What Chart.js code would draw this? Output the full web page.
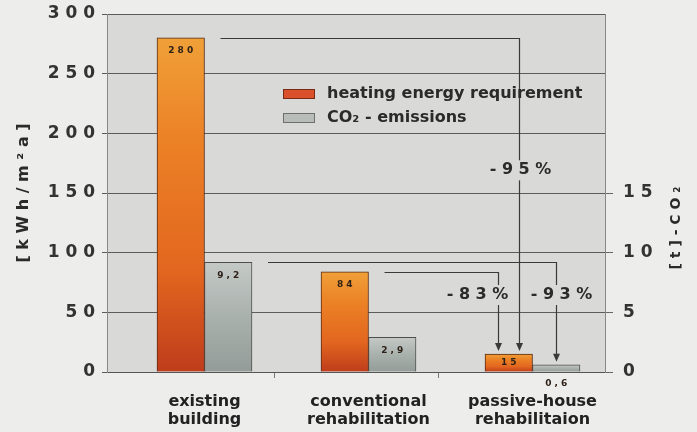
<!DOCTYPE html>
<html>
<head>
<meta charset="utf-8">
<script src="https://cdn.jsdelivr.net/npm/chart.js@4.4.1/dist/chart.umd.min.js"></script>
<style>
  html, body { margin: 0; padding: 0; background: #ededeb; }
  canvas { display: block; }
</style>
</head>
<body>
<canvas id="energyChart" width="697" height="432"></canvas>
<script>
// values
const categories = [["existing", "building"], ["conventional", "rehabilitation"], ["passive-house", "rehabilitaion"]];
const heatingEnergy = [280, 84, 15];      // kWh/m²a, left axis
const co2Emissions = [9.2, 2.9, 0.6];     // t CO2, right axis
const rightTicks = [0, 5, 10, 15];
const reductionTexts = ["- 9 5 %", "- 8 3 %", "- 9 3 %"];

const FONT = "DejaVu Sans";
const PLOT_BG = "#d9d9d7";

// which bar each reduction arrow runs from / to, and where its label sits
const reductionArrows = [
    { from: [0, 0], to: [0, 2], dx: 10, tx: 1, at: 169 },
    { from: [0, 1], to: [0, 2], dx: -11, tx: -21, at: 64.5 },
    { from: [1, 0], to: [1, 2], dx: 0, tx: 5, at: 64.5 }
];

function spaced(v) {
    return String(v).replace(".", ",").split("").join(" ");
}

function barFill(stops) {
    return function (c) {
        const chart = c.chart;
        if (!chart.chartArea || c.type !== "data") return stops[1][1];
        const axis = c.datasetIndex === 0 ? "y" : "y1";
        const top = chart.scales[axis].getPixelForValue(c.raw.y);
        const base = chart.chartArea.bottom;
        const g = chart.ctx.createLinearGradient(0, top, 0, base);
        stops.forEach(s => g.addColorStop(s[0], s[1]));
        return g;
    };
}

function noVerticalPadding(s) {
    s.paddingTop = 0;
    s.paddingBottom = 0;
}

const backgroundPlugin = {
    id: "plotBackground",
    beforeDraw(chart) {
        const { ctx, chartArea: a } = chart;
        ctx.save();
        ctx.fillStyle = "#ededeb";
        ctx.fillRect(0, 0, chart.width, chart.height);
        ctx.fillStyle = PLOT_BG;
        ctx.fillRect(a.left, a.top, a.right - a.left, a.bottom - a.top);
        ctx.restore();
    }
};

const arrowPlugin = {
    id: "reductionArrows",
    afterDatasetsDraw(chart) {
        const ctx = chart.ctx;
        ctx.save();
        reductionArrows.forEach((a, k) => {
            const src = chart.getDatasetMeta(a.from[0]).data[a.from[1]];
            const dst = chart.getDatasetMeta(a.to[0]).data[a.to[1]];
            const x0 = src.x + src.width / 2 + 16;
            const y0 = Math.round(src.y) + 0.5;
            const x1 = Math.round(dst.x + a.dx) + 0.5;
            const tip = dst.y - 3;
            ctx.strokeStyle = "#3a3a3a";
            ctx.fillStyle = "#3a3a3a";
            ctx.lineWidth = 1.2;
            ctx.beginPath();
            ctx.moveTo(x0, y0);
            ctx.lineTo(x1, y0);
            ctx.lineTo(x1, tip - 6);
            ctx.stroke();
            ctx.beginPath();
            ctx.moveTo(x1 - 3.5, tip - 8);
            ctx.lineTo(x1 + 3.5, tip - 8);
            ctx.lineTo(x1, tip);
            ctx.closePath();
            ctx.fill();

            const ty = chart.scales.y.getPixelForValue(a.at);
            const tx = x1 + a.tx;
            ctx.font = "bold 16px " + FONT;
            const w = ctx.measureText(reductionTexts[k]).width;
            ctx.fillStyle = PLOT_BG;
            ctx.fillRect(tx - w / 2 - 3, ty - 10, w + 6, 20);
            ctx.fillStyle = "#2b2b2b";
            ctx.textAlign = "center";
            ctx.textBaseline = "middle";
            ctx.fillText(reductionTexts[k], tx, ty);
        });
        ctx.restore();
    }
};

const valueLabelPlugin = {
    id: "valueLabels",
    afterDatasetsDraw(chart) {
        const ctx = chart.ctx;
        ctx.save();
        ctx.font = "bold 9px " + FONT;
        ctx.textAlign = "center";
        ctx.textBaseline = "middle";
        ctx.fillStyle = "#2e2218";
        chart.data.datasets.forEach((ds, d) => {
            chart.getDatasetMeta(d).data.forEach((bar, i) => {
                const h = bar.base - bar.y;
                const y = h > 16 ? bar.y + Math.min(13, h / 2) : bar.base + 12;
                ctx.fillText(spaced(ds.data[i].y), bar.x, y);
            });
        });
        ctx.restore();
    }
};

const legendPlugin = {
    id: "insideLegend",
    afterDraw(chart) {
        const ctx = chart.ctx;
        ctx.save();
        const rows = [
            { text: chart.data.datasets[0].label, fill: "#d9502a", line: "#7a2a18", y: 94 },
            { text: chart.data.datasets[1].label, fill: "#b9bdba", line: "#6e6e6e", y: 118 }
        ];
        rows.forEach(r => {
            ctx.fillStyle = r.fill;
            ctx.fillRect(283, r.y - 5, 32, 10);
            ctx.strokeStyle = r.line;
            ctx.lineWidth = 1;
            ctx.strokeRect(283.5, r.y - 4.5, 31, 9);
            ctx.fillStyle = "#2a2a2a";
            ctx.font = "bold 16px " + FONT;
            ctx.textAlign = "left";
            ctx.textBaseline = "middle";
            ctx.fillText(r.text, 327, r.y);
        });

        // right axis title, reading bottom to top
        ctx.translate(676, 228);
        ctx.rotate(-Math.PI / 2);
        ctx.font = "bold 14px " + FONT;
        ctx.textAlign = "center";
        ctx.textBaseline = "middle";
        ctx.fillText("[ t ] - C O ₂", 0, 0);
        ctx.restore();
    }
};

new Chart(document.getElementById("energyChart"), {
    type: "bar",
    data: {
        datasets: [{
            label: "heating energy requirement",
            data: heatingEnergy.map((v, i) => ({ x: i + 1, y: v })),
            yAxisID: "y",
            backgroundColor: barFill([[0, "#f0a038"], [0.3, "#ec8226"], [0.7, "#e2661f"], [1, "#bf3c1b"]]),
            borderColor: "#5a2a14",
            borderWidth: 1,
            barThickness: 47.5
        }, {
            label: "CO₂ - emissions",
            data: co2Emissions.map((v, i) => ({ x: i + 1, y: v })),
            yAxisID: "y1",
            backgroundColor: barFill([[0, "#c4c9c6"], [0.5, "#a9b1ad"], [1, "#939c98"]]),
            borderColor: "#4e4e4e",
            borderWidth: 1,
            barThickness: 47.5
        }]
    },
    options: {
        responsive: false,
        devicePixelRatio: 1,
        animation: false,
        layout: { padding: { left: 10, right: 0, top: 14, bottom: 0 } },
        plugins: {
            legend: { display: false },
            tooltip: { enabled: false }
        },
        scales: {
            x: {
                type: "linear",
                min: 0.4055,
                max: 3.442,
                offset: false,
                afterBuildTicks: s => { s.ticks = [1, 1.424, 2, 2.424, 3].map(v => ({ value: v })); },
                afterFit: s => { s.height = 60; },
                grid: {
                    offset: false,
                    drawOnChartArea: false,
                    tickLength: 6,
                    tickColor: c => Number.isInteger(c.tick.value) ? "rgba(0,0,0,0)" : "#777"
                },
                border: { display: true, color: "#555" },
                ticks: {
                    autoSkip: false,
                    maxRotation: 0,
                    padding: 15,
                    color: "#222",
                    font: { family: FONT, size: 16, weight: "bold", lineHeight: 1.12 },
                    callback: v => Number.isInteger(v) ? categories[v - 1] : ""
                }
            },
            y: {
                position: "left",
                min: 0,
                max: 300,
                afterFit: s => { s.width = 97; noVerticalPadding(s); },
                grid: { color: "#5c5c5c", tickLength: 5 },
                border: { display: true, color: "#888" },
                ticks: {
                    stepSize: 50,
                    padding: 7,
                    color: "#333",
                    font: { family: FONT, size: 17, weight: "bold" },
                    callback: v => spaced(v)
                },
                title: {
                    display: true,
                    text: "[ k W h / m ² a ]",
                    color: "#2a2a2a",
                    padding: { top: 4, bottom: 0 },
                    font: { family: FONT, size: 16, weight: "bold" }
                }
            },
            y1: {
                position: "right",
                min: 0,
                max: 30,
                afterBuildTicks: s => { s.ticks = rightTicks.map(v => ({ value: v })); },
                afterFit: s => { s.width = 92; noVerticalPadding(s); },
                grid: { drawOnChartArea: false, tickLength: 8, color: "#666" },
                border: { display: true, color: "#888" },
                ticks: {
                    padding: 10,
                    color: "#333",
                    font: { family: FONT, size: 17, weight: "bold" },
                    callback: v => spaced(v)
                }
            }
        }
    },
    plugins: [backgroundPlugin, arrowPlugin, valueLabelPlugin, legendPlugin]
});
</script>
</body>
</html>
